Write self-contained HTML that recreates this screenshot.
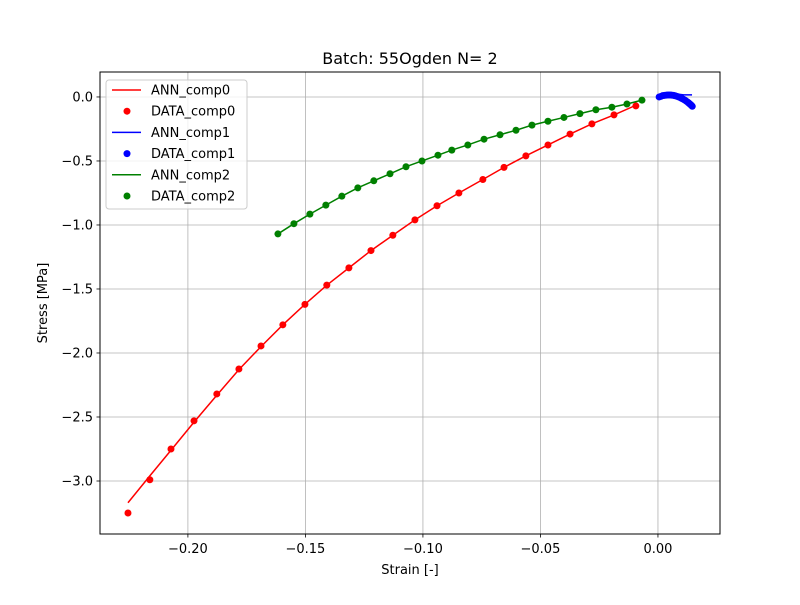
<!DOCTYPE html>
<html><head><meta charset="utf-8"><style>
body{margin:0;background:#fff;}
svg text{font-family:"DejaVu Sans","Liberation Sans",sans-serif;fill:#000;}
</style></head><body>
<svg id="chart" width="800" height="600" xmlns="http://www.w3.org/2000/svg">
<rect width="800" height="600" fill="#fff"/>
<g id="grid"></g>
<g id="series"></g>
<rect x="100" y="72" width="620" height="462" fill="none" stroke="#000" stroke-width="1"/>
<g id="ticks"></g>
<text x="410" y="64" font-size="16" text-anchor="middle">Batch: 55Ogden N= 2</text>
<text x="410" y="574" font-size="13" text-anchor="middle">Strain [-]</text>
<text x="47" y="303" font-size="13" text-anchor="middle" transform="rotate(-90 47 303)">Stress [MPa]</text>
<g id="legend">
<rect x="106" y="80" width="141" height="129" rx="3" fill="#fff" fill-opacity="0.8" stroke="#ccc"/>
</g>
</svg>
<script>
const xTicks=[-0.20,-0.15,-0.10,-0.05,0.00];
const xTickLabels=["\u22120.20","\u22120.15","\u22120.10","\u22120.05","0.00"];
const yTicks=[0.0,-0.5,-1.0,-1.5,-2.0,-2.5,-3.0];
const yTickLabels=["0.0","\u22120.5","\u22121.0","\u22121.5","\u22122.0","\u22122.5","\u22123.0"];

const dataStrain0=[-0.2255,-0.2162,-0.2072,-0.1974,-0.1877,-0.1783,-0.1689,-0.1596,-0.1502,-0.1409,-0.1315,-0.1221,-0.1128,-0.1034,-0.0940,-0.0847,-0.0745,-0.0655,-0.0562,-0.0468,-0.0374,-0.0281,-0.0187,-0.0094];
const dataStress0=[-3.25,-2.99,-2.75,-2.53,-2.32,-2.125,-1.945,-1.78,-1.62,-1.47,-1.335,-1.20,-1.08,-0.96,-0.85,-0.75,-0.645,-0.55,-0.46,-0.375,-0.29,-0.21,-0.14,-0.07];
const annStress0=[-3.17,-2.96,-2.76,-2.54,-2.33,-2.13,-1.95,-1.78,-1.62,-1.47,-1.335,-1.20,-1.08,-0.96,-0.85,-0.75,-0.645,-0.55,-0.46,-0.375,-0.29,-0.21,-0.14,-0.065];

const dataStrain1=[0.0005,0.0013,0.002,0.0028,0.0036,0.0043,0.0051,0.0058,0.0066,0.0073,0.0081,0.0088,0.0096,0.0103,0.011,0.0117,0.0123,0.0129,0.0134,0.0139,0.0143,0.0146];
const dataStress1=[0.0,0.005,0.01,0.012,0.014,0.015,0.015,0.014,0.012,0.009,0.005,0.0,-0.006,-0.013,-0.02,-0.028,-0.036,-0.044,-0.052,-0.06,-0.067,-0.073];
const annStrain1=[0,0.0026,0.0051,0.0077,0.011,0.0145];
const annStress1=[0,0.023,0.03,0.023,0.016,0.016];

const dataStrain2=[-0.1617,-0.1549,-0.1481,-0.1413,-0.1345,-0.1277,-0.1209,-0.1140,-0.1072,-0.1004,-0.0936,-0.0877,-0.0809,-0.0740,-0.0672,-0.0604,-0.0536,-0.0468,-0.0400,-0.0332,-0.0264,-0.0196,-0.0132,-0.0068];
const dataStress2=[-1.07,-0.99,-0.915,-0.845,-0.775,-0.71,-0.655,-0.60,-0.545,-0.50,-0.455,-0.415,-0.375,-0.33,-0.295,-0.26,-0.22,-0.19,-0.16,-0.13,-0.10,-0.08,-0.055,-0.025];

const legendLabels=["ANN_comp0","DATA_comp0","ANN_comp1","DATA_comp1","ANN_comp2","DATA_comp2"];

const NS="http://www.w3.org/2000/svg";
const X0=-0.2374,X1=0.0264,Y0=-3.414,Y1=0.195;
function sx(v){return 100+(v-X0)/(X1-X0)*620;}
function sy(v){return 534-(v-Y0)/(Y1-Y0)*462;}
function mk(tag,attrs,parent){const e=document.createElementNS(NS,tag);for(const k in attrs)e.setAttribute(k,attrs[k]);parent.appendChild(e);return e;}
const grid=document.getElementById('grid'),ticks=document.getElementById('ticks'),ser=document.getElementById('series'),leg=document.getElementById('legend');

xTicks.forEach((t,i)=>{const x=sx(t);
 const g=mk('line',{x1:x,x2:x,y1:72,y2:534,stroke:'#b0b0b0','stroke-width':0.8},grid);
 
 
 const tk=mk('line',{x1:x,x2:x,y1:534,y2:537.5,stroke:'#000','stroke-width':0.8},ticks);
 
 
 const tx=mk('text',{x:x,y:553,'font-size':13,'text-anchor':'middle'},ticks);tx.textContent=xTickLabels[i];
 
 
});
yTicks.forEach((t,i)=>{const y=sy(t);
 const g=mk('line',{x1:100,x2:720,y1:y,y2:y,stroke:'#b0b0b0','stroke-width':0.8},grid);
 
 
 const tk=mk('line',{x1:96.5,x2:100,y1:y,y2:y,stroke:'#000','stroke-width':0.8},ticks);
 
 
 const tx=mk('text',{x:93,y:y+4.5,'font-size':13,'text-anchor':'end'},ticks);tx.textContent=yTickLabels[i];
 
 
});

function line(xs,ys,color,name){
 const p=mk('polyline',{points:xs.map((v,i)=>sx(v)+','+sy(ys[i])).join(' '),fill:'none',stroke:color,'stroke-width':1.5},ser);
 
 
}
function dots(xs,ys,color,name){
 xs.forEach((v,i)=>{const c=mk('circle',{cx:sx(v),cy:sy(ys[i]),r:3.5,fill:color},ser);
  
  
 });
}
line(dataStrain0,annStress0,'#ff0000','ann-comp0-line');
dots(dataStrain0,dataStress0,'#ff0000','data-comp0-point');
line(annStrain1,annStress1,'#0000ff','ann-comp1-line');
dots(dataStrain1,dataStress1,'#0000ff','data-comp1-point');
line(dataStrain2,dataStress2,'#008000','ann-comp2-line');
dots(dataStrain2,dataStress2,'#008000','data-comp2-point');

const legColors=['#ff0000','#ff0000','#0000ff','#0000ff','#008000','#008000'];
legendLabels.forEach((lab,i)=>{const y=90+i*21.2;
 if(i%2===0){const l=mk('line',{x1:112,x2:141,y1:y,y2:y,stroke:legColors[i],'stroke-width':1.5},leg);
  
  }
 else{const c=mk('circle',{cx:127,cy:y,r:3.5,fill:legColors[i]},leg);
  
  }
 const t=mk('text',{x:151,y:y+4.5,'font-size':13},leg);t.textContent=lab;
 
 
});
</script>
</body></html>
